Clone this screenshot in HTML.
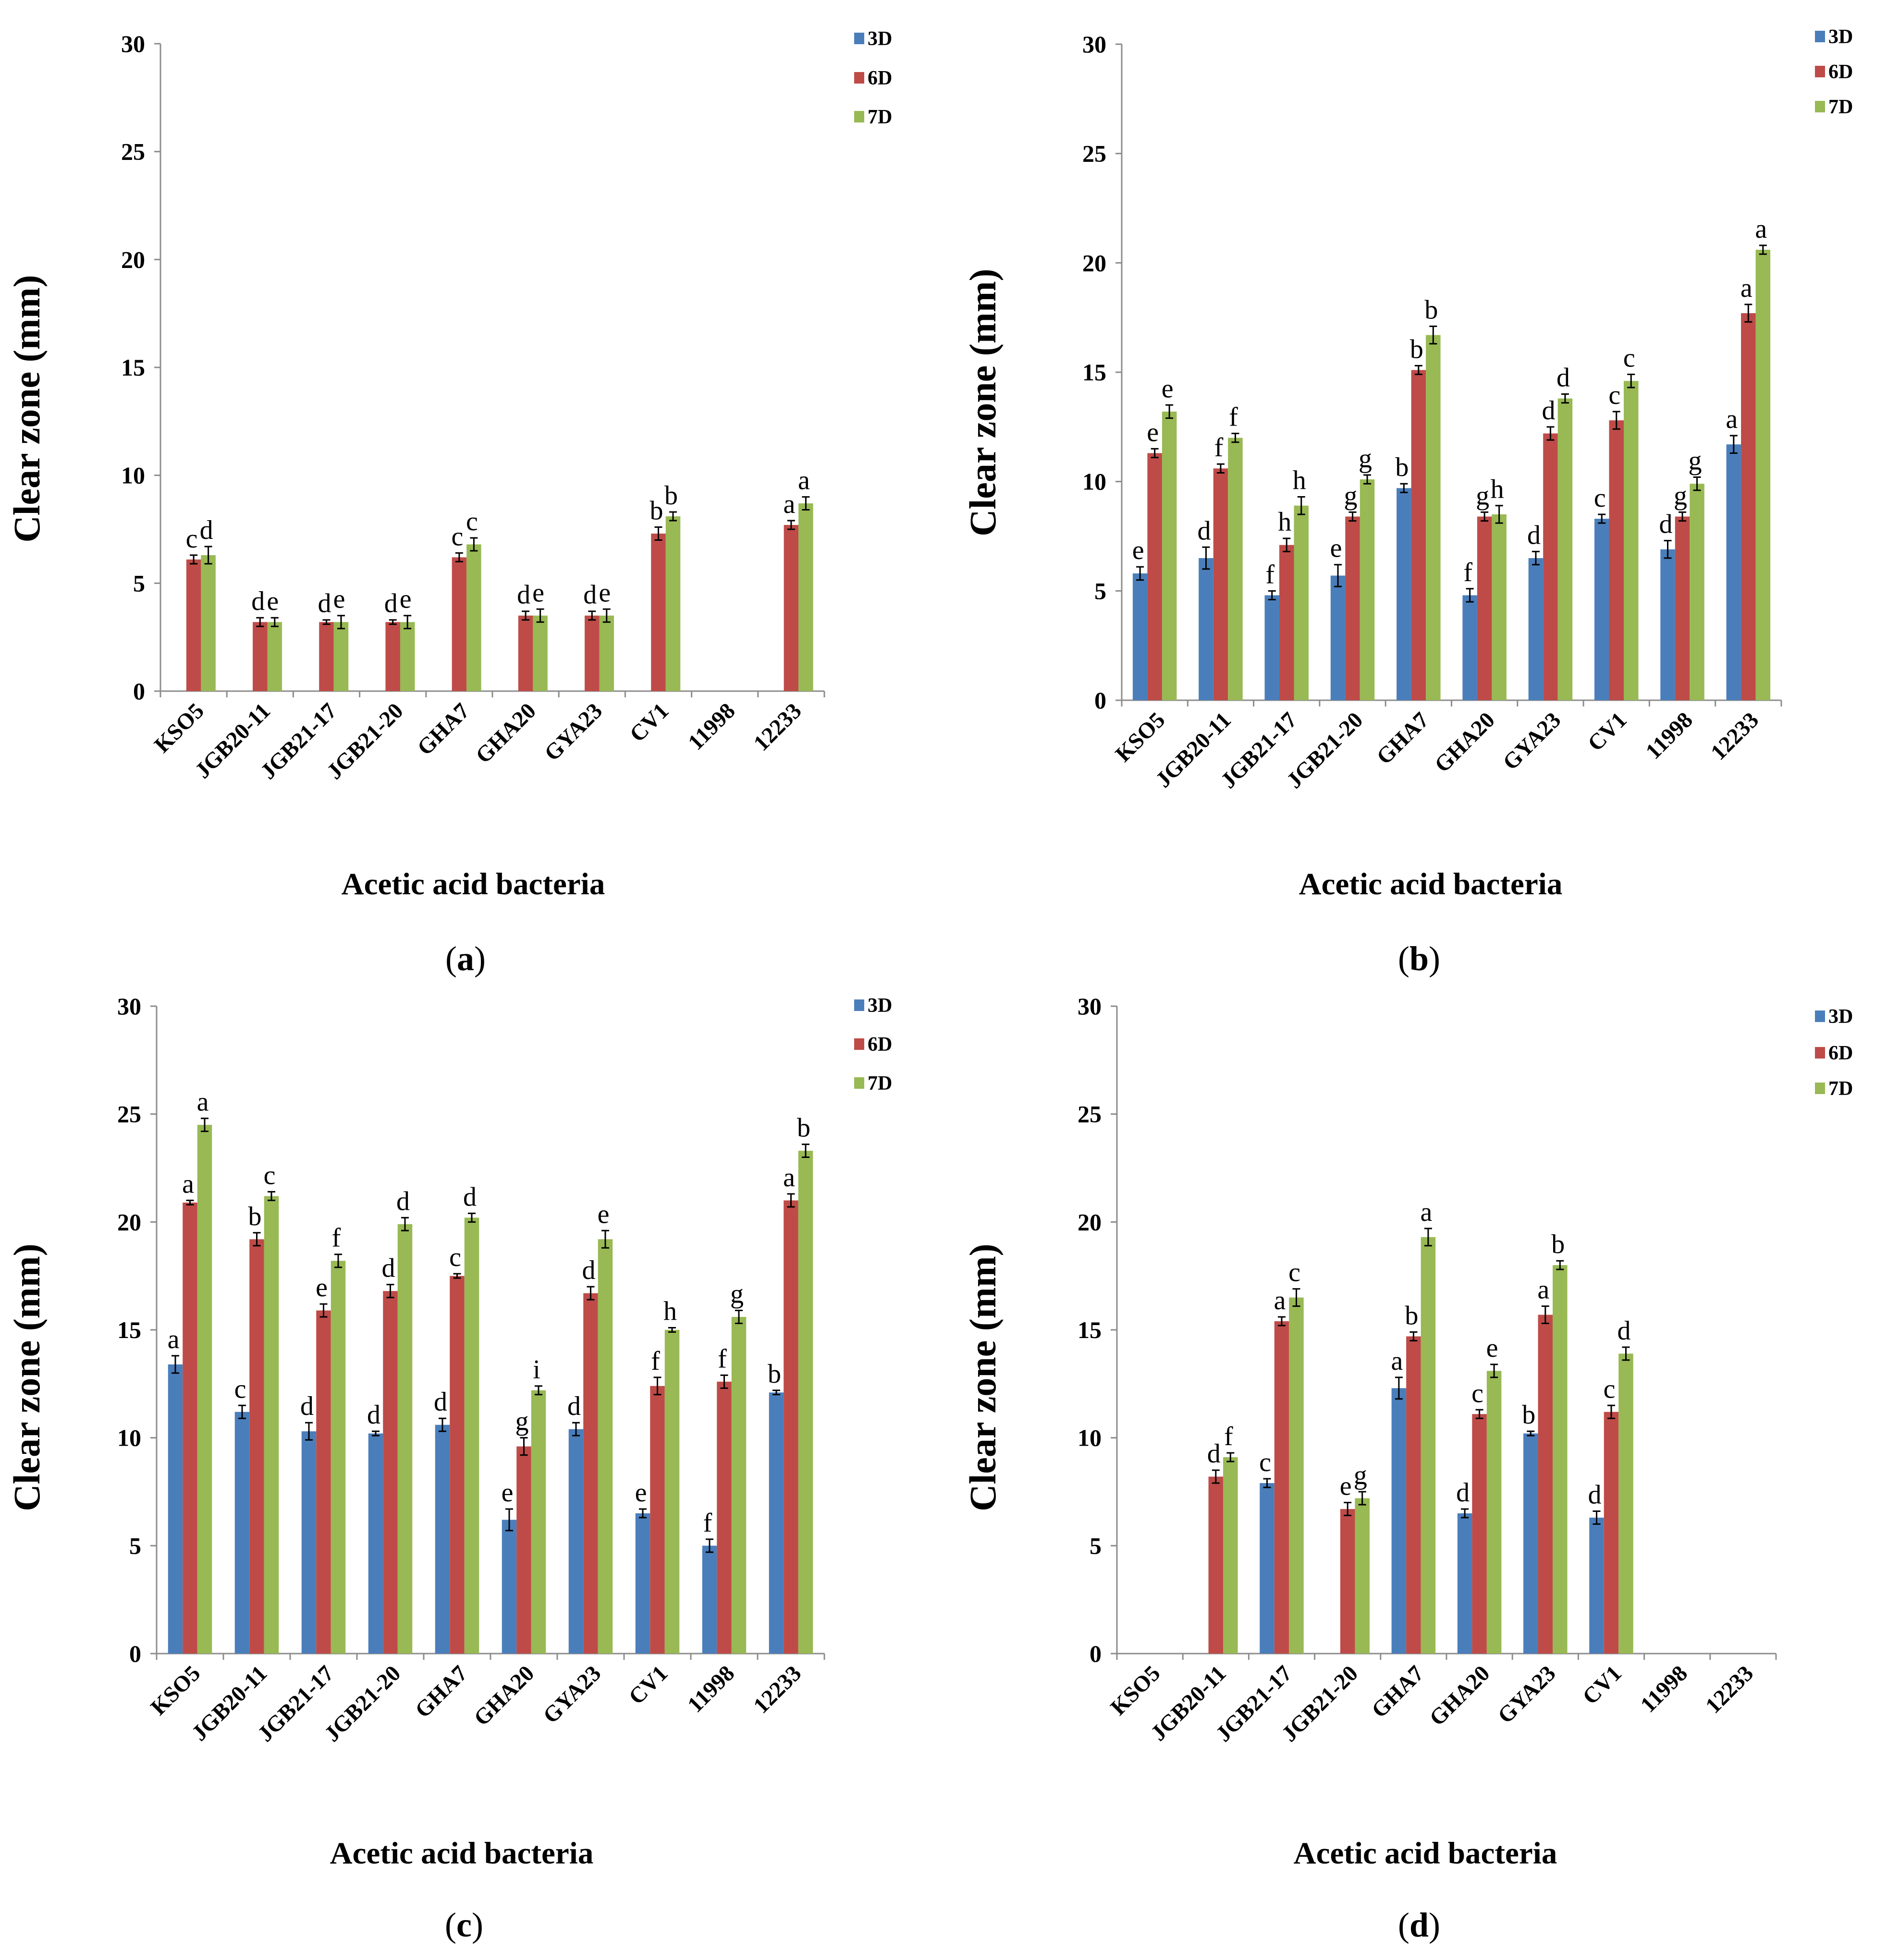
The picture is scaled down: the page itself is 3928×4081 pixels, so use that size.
<!DOCTYPE html>
<html><head><meta charset="utf-8">
<style>
html,body{margin:0;padding:0;background:#fff;}
svg{display:block;}
text{font-family:"Liberation Serif","Times New Roman",serif;}
</style></head>
<body>
<svg id="chart" width="3928" height="4081" viewBox="0 0 3928 4081" xmlns="http://www.w3.org/2000/svg"></svg>
<script>
const categories = ["KSO5","JGB20-11","JGB21-17","JGB21-20","GHA7","GHA20","GYA23","CV1","11998","12233"];
const seriesNames = ["3D","6D","7D"];
const yTicks = [0,5,10,15,20,25,30];

// Panel (a)
const a3D = [null,null,null,null,null,null,null,null,null,null];
const a6D = [6.1,3.2,3.2,3.2,6.2,3.5,3.5,7.3,null,7.7];
const a7D = [6.3,3.2,3.2,3.2,6.8,3.5,3.5,8.1,null,8.7];
const a3Dlab = ["","","","","","","","","",""];
const a6Dlab = ["c","d","d","d","c","d","d","b","","a"];
const a7Dlab = ["d","e","e","e","c","e","e","b","","a"];
const aErr6 = [0.2,0.2,0.1,0.1,0.2,0.2,0.2,0.3,0,0.2];
const aErr7 = [0.4,0.2,0.3,0.3,0.3,0.3,0.3,0.2,0,0.3];

// Panel (b)
const b3D = [5.8,6.5,4.8,5.7,9.7,4.8,6.5,8.3,6.9,11.7];
const b6D = [11.3,10.6,7.1,8.4,15.1,8.4,12.2,12.8,8.4,17.7];
const b7D = [13.2,12.0,8.9,10.1,16.7,8.5,13.8,14.6,9.9,20.6];
const b3Dlab = ["e","d","f","e","b","f","d","c","d","a"];
const b6Dlab = ["e","f","h","g","b","g","d","c","g","a"];
const b7Dlab = ["e","f","h","g","b","h","d","c","g","a"];
const bErr3 = [0.3,0.5,0.2,0.5,0.2,0.3,0.3,0.2,0.4,0.4];
const bErr6 = [0.2,0.2,0.3,0.2,0.2,0.2,0.3,0.4,0.2,0.4];
const bErr7 = [0.3,0.2,0.4,0.2,0.4,0.4,0.2,0.3,0.3,0.2];

// Panel (c)
const c3D = [13.4,11.2,10.3,10.2,10.6,6.2,10.4,6.5,5.0,12.1];
const c6D = [20.9,19.2,15.9,16.8,17.5,9.6,16.7,12.4,12.6,21.0];
const c7D = [24.5,21.2,18.2,19.9,20.2,12.2,19.2,15.0,15.6,23.3];
const c3Dlab = ["a","c","d","d","d","e","d","e","f","b"];
const c6Dlab = ["a","b","e","d","c","g","d","f","f","a"];
const c7Dlab = ["a","c","f","d","d","i","e","h","g","b"];
const cErr3 = [0.4,0.3,0.4,0.1,0.3,0.5,0.3,0.2,0.3,0.1];
const cErr6 = [0.1,0.3,0.3,0.3,0.1,0.4,0.3,0.4,0.3,0.3];
const cErr7 = [0.3,0.2,0.3,0.3,0.2,0.2,0.4,0.1,0.3,0.3];

// Panel (d)
const d3D = [null,null,7.9,null,12.3,6.5,10.2,6.3,null,null];
const d6D = [null,8.2,15.4,6.7,14.7,11.1,15.7,11.2,null,null];
const d7D = [null,9.1,16.5,7.2,19.3,13.1,18.0,13.9,null,null];
const d3Dlab = ["","","c","","a","d","b","d","",""];
const d6Dlab = ["","d","a","e","b","c","a","c","",""];
const d7Dlab = ["","f","c","g","a","e","b","d","",""];
const dErr3 = [0,0,0.2,0,0.5,0.2,0.1,0.3,0,0];
const dErr6 = [0,0.3,0.2,0.3,0.2,0.2,0.4,0.3,0,0];
const dErr7 = [0,0.2,0.4,0.3,0.4,0.3,0.2,0.3,0,0];

const colors = ["#4a7ebb","#be4b48","#98b954"];
const NS = "http://www.w3.org/2000/svg";
const svg = document.getElementById("chart");

function mk(tag, attrs, parent, txt){
  const e = document.createElementNS(NS, tag);
  for (const k in attrs) e.setAttribute(k, attrs[k]);
  if (txt !== undefined) e.textContent = txt;
  (parent||svg).appendChild(e);
  return e;
}

const panels = [
  {id:"a", x0:334, x1:1716, y0:1439, y30:91, legX:1778, legY:[80,162,243], yt:[82,851], xt:[985,1862], lab:[969,2020],
   vals:[a3D,a6D,a7D], labs:[a3Dlab,a6Dlab,a7Dlab], errs:[a6D.map(()=>0),aErr6,aErr7]},
  {id:"b", x0:2335, x1:3708, y0:1458, y30:92, legX:3778, legY:[76,149,222], yt:[2072,838], xt:[2978,1862], lab:[2954,2020],
   vals:[b3D,b6D,b7D], labs:[b3Dlab,b6Dlab,b7Dlab], errs:[bErr3,bErr6,bErr7]},
  {id:"c", x0:326, x1:1716, y0:3443, y30:2095, legX:1778, legY:[2093,2174,2255], yt:[82,2868], xt:[961,3880], lab:[966,4032],
   vals:[c3D,c6D,c7D], labs:[c3Dlab,c6Dlab,c7Dlab], errs:[cErr3,cErr6,cErr7]},
  {id:"d", x0:2325, x1:3697, y0:3443, y30:2095, legX:3778, legY:[2116,2192,2266], yt:[2072,2868], xt:[2967,3880], lab:[2954,4032],
   vals:[d3D,d6D,d7D], labs:[d3Dlab,d6Dlab,d7Dlab], errs:[dErr3,dErr6,dErr7]}
];

panels.forEach(p => {
  const g = mk("g", {});
  
  
  const yS = v => p.y0 - (v/30)*(p.y0 - p.y30);
  const cw = (p.x1 - p.x0)/categories.length;
  const xC = i => p.x0 + cw*(i+0.5);
  const bw = 30.5;

  const ya = mk("line", {x1:p.x0, y1:p.y30, x2:p.x0, y2:p.y0, stroke:"#8c8c8c", "stroke-width":3}, g);
  
  
  yTicks.forEach(t => {
    const y = yS(t);
    mk("line", {x1:p.x0-13, y1:y, x2:p.x0, y2:y, stroke:"#8c8c8c","stroke-width":3}, g);
    const tl = mk("text", {x:p.x0-32, y:y+17, "text-anchor":"end", "font-size":50, "font-weight":"bold"}, g, String(t));
    
    
  });
  const xa = mk("line", {x1:p.x0-13, y1:p.y0, x2:p.x1, y2:p.y0, stroke:"#8c8c8c", "stroke-width":3}, g);
  
  
  for (let i=0;i<=categories.length;i++){
    const x = p.x0 + cw*i;
    mk("line", {x1:x, y1:p.y0, x2:x, y2:p.y0+13, stroke:"#8c8c8c","stroke-width":3}, g);
  }
  categories.forEach((c,i) => {
    const ax = xC(i)+24, ay = p.y0+44;
    const t = mk("text", {x:ax, y:ay, "text-anchor":"end", "font-size":47, "font-weight":"bold", transform:`rotate(-45 ${ax} ${ay})`}, g, c);
    
    
  });

  p.vals.forEach((arr, s) => {
    arr.forEach((v, i) => {
      if (v === null) return;
      const x = xC(i) + (s-1)*bw - bw/2;
      const r = mk("rect", {x:x, y:yS(v), width:bw, height:p.y0 - yS(v), fill:colors[s]}, g);
      
      
      const e = p.errs[s][i] || 0;
      const cx = x + bw/2;
      const yt = yS(v+e), yb = yS(v-e);
      if (e > 0){
        const eb = mk("path", {d:`M${cx} ${yt}V${yb}M${cx-8} ${yt}H${cx+8}M${cx-8} ${yb}H${cx+8}`, stroke:"#000","stroke-width":3, fill:"none"}, g);
        
        
      }
      const lab = p.labs[s][i];
      if (lab){
        const lt = mk("text", {x:cx-4, y:yt-16, "text-anchor":"middle", "font-size":56}, g, lab);
        
        
      }
    });
  });

  seriesNames.forEach((n, s) => {
    const lg = mk("g", {}, g);
    
    
    mk("rect", {x:p.legX, y:p.legY[s]-12, width:21, height:24, fill:colors[s]}, lg);
    mk("text", {x:p.legX+28, y:p.legY[s]+14, "font-size":42, "font-weight":"bold"}, lg, n);
  });

  const yt = mk("text", {x:p.yt[0], y:p.yt[1], "text-anchor":"middle", "font-size":78, "font-weight":"bold", transform:`rotate(-90 ${p.yt[0]} ${p.yt[1]})`, "xml:space":"preserve"}, g, "Clear zone  (mm)");
  
  
  const xt = mk("text", {x:p.xt[0], y:p.xt[1], "text-anchor":"middle", "font-size":65, "font-weight":"bold"}, g, "Acetic acid bacteria");
  
  
  const pl = mk("text", {x:p.lab[0], y:p.lab[1], "text-anchor":"middle", "font-size":72}, g);
  
  
  mk("tspan", {}, pl, "(");
  mk("tspan", {"font-weight":"bold"}, pl, p.id);
  mk("tspan", {}, pl, ")");
});
</script>
</body></html>
